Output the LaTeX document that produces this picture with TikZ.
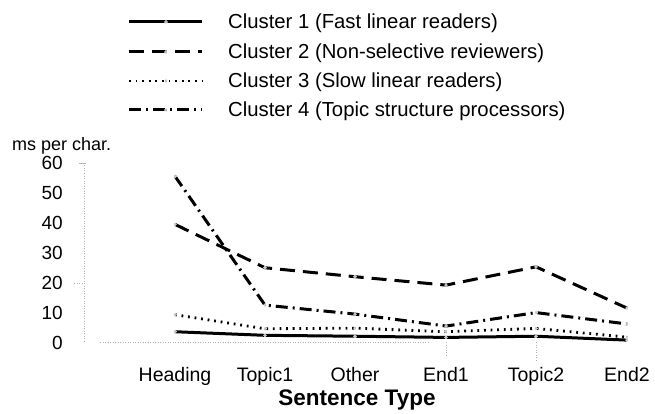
\documentclass[tikz,border=0pt]{standalone}
\usepackage{fontspec}
\setmainfont{Liberation Sans}
\begin{document}
\begin{tikzpicture}[x=1pt,y=-1pt,
  mk/.style={circle,inner sep=0pt,minimum size=3.6pt,fill=white,
    path picture={\draw[gray!55,line width=0.5pt]
      (path picture bounding box.north) -- (path picture bounding box.south)
      (path picture bounding box.north west) -- (path picture bounding box.south east)
      (path picture bounding box.north east) -- (path picture bounding box.south west);}},
  sA/.style={line width=3pt},
  sB/.style={line width=3pt,dash pattern=on 15pt off 8pt},
  sC/.style={line width=2.8pt,dash pattern=on 1.8pt off 4.8pt},
  sD/.style={line width=3pt,dash pattern=on 12pt off 5pt on 2pt off 5pt},
  axisln/.style={gray!60,line width=0.6pt,dash pattern=on 1pt off 1.5pt},
  lgtxt/.style={anchor=base west,font=\fontsize{20.3}{21}\selectfont,inner sep=0pt},
  ticklab/.style={anchor=base east,font=\fontsize{19}{20}\selectfont,inner sep=0pt},
  catlab/.style={anchor=base,font=\fontsize{19.5}{20}\selectfont,inner sep=0pt},
]
\useasboundingbox (0,0) rectangle (655,414);

% legend
\foreach \r/\y/\b/\s/\t in {1/22/29/sA/Cluster 1 (Fast linear readers),
                             2/52/59/sB/Cluster 2 (Non-selective reviewers),
                             3/81/88/sC/Cluster 3 (Slow linear readers),
                             4/110/117/sD/Cluster 4 (Topic structure processors)}{
  \coordinate (la\r) at (129,\y);
  \coordinate (lb\r) at (202,\y);
  \draw[\s] (la\r) -- (lb\r);
  \node[mk] (lm\r) at (166,\y) {};
  \node[lgtxt] (lt\r) at (228,\b) {\t};
}

% axis title
\node[anchor=base west,font=\fontsize{18}{20}\selectfont,inner sep=0pt] (ylab) at (12,150) {ms per char.};

% axes
\coordinate (ytop) at (84,163);
\coordinate (ybot) at (84,342);
\draw[axisln] (ytop) -- (ybot);
\coordinate (xl) at (100,342);
\coordinate (xr) at (430,342);
\draw[axisln] (xl) -- (xr);
\coordinate (t60a) at (79,163); \coordinate (t60b) at (86,163);
\draw[gray!60,line width=0.6pt] (t60a) -- (t60b);
\coordinate (t20a) at (74,283); \coordinate (t20b) at (84,283);
\draw[axisln] (t20a) -- (t20b);
\coordinate (e1a) at (446,342); \coordinate (e1b) at (446,356);
\draw[axisln] (e1a) -- (e1b);
\coordinate (e2a) at (536,342); \coordinate (e2b) at (536,360);
\draw[axisln] (e2a) -- (e2b);

% y tick labels
\foreach \v in {0,10,...,60}{
  \node[ticklab] (yl\v) at (63,{342.5-2.99*\v+6.5}) {\v};
}

% category labels
\foreach \i/\x/\n in {1/175/Heading,2/265/Topic1,3/355/Other,4/446/End1,5/536/Topic2,6/627/End2}{
  \node[catlab] (cat\i) at (\x,381) {\n};
}
\node[anchor=base,font=\bfseries\fontsize{22.5}{23}\selectfont,inner sep=0pt] (xlab) at (357,405) {Sentence Type};

% data
\newcommand\plotseries[3]{%
  \foreach \i/\x/\v in {#2}{
    \coordinate (#1p\i) at (\x,{342.5-2.99*\v});
  }
  \draw[#3,line join=round] (#1p1) -- (#1p2) -- (#1p3) -- (#1p4) -- (#1p5) -- (#1p6);
}
\plotseries{a}{1/175/3.6,2/265/2.4,3/355/2.1,4/446/1.7,5/536/2.1,6/627/0.8}{sA}
\plotseries{c}{1/175/9.3,2/265/4.6,3/355/4.8,4/446/3.6,5/536/4.7,6/627/1.8}{sC}
\plotseries{d}{1/175/55.6,2/265/12.5,3/355/9.5,4/446/5.5,5/536/10,6/627/6.2}{sD}
\plotseries{b}{1/175/39.5,2/265/25,3/355/22,4/446/19.2,5/536/25.3,6/627/11.5}{sB}
\foreach \s in {a,b,c,d}{
  \foreach \i in {1,...,6}{
    \node[mk] (\s\i) at (\s p\i) {};
  }
}

\end{tikzpicture}
\end{document}
